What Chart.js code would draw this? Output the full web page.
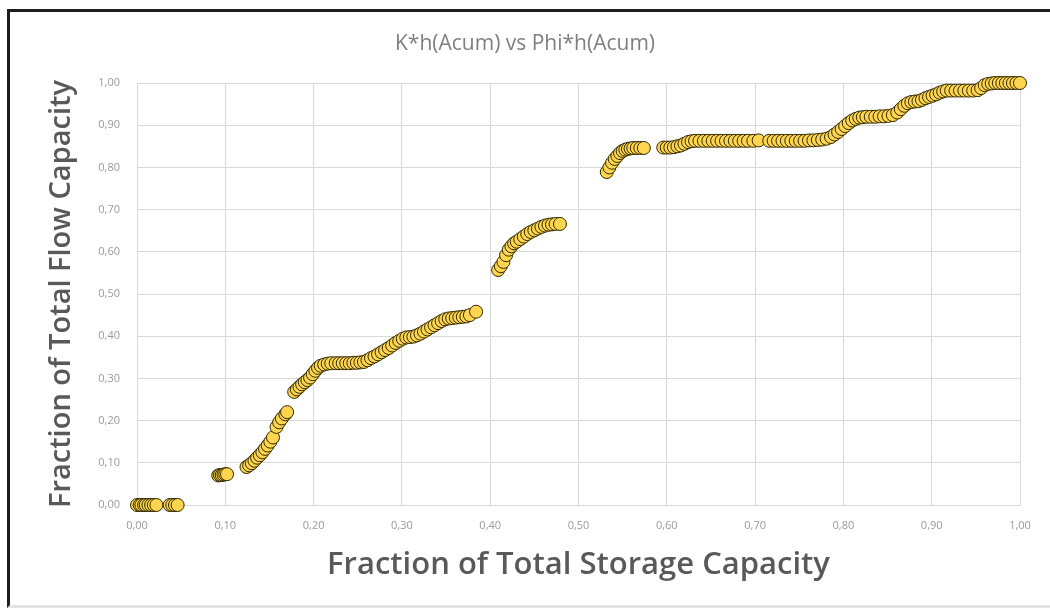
<!DOCTYPE html>
<html>
<head>
<meta charset="utf-8">
<title>K*h(Acum) vs Phi*h(Acum)</title>
<script src="https://cdn.jsdelivr.net/npm/chart.js@4"></script>
<style>
  html, body { margin: 0; padding: 0; background: #fff; overflow: hidden; }
  #frame {
    position: absolute; left: 7px; top: 9px; width: 1100px; height: 593px;
    border-top: 3px solid #1e1e1e; border-left: 3px solid #1e1e1e; border-bottom: 3px solid #e4e4e4;
  }
  #wrap { position: absolute; left: 0; top: 0; width: 1050px; height: 609px; }
</style>
</head>
<body>
<div id="frame"></div>
<div id="wrap"><canvas id="chart" width="1050" height="609"></canvas></div>
<script>
// Fraction of total storage capacity (Phi*h accumulated)
const storageFraction = [
  0.000, 0.003, 0.005, 0.008, 0.010, 0.013, 0.016, 0.019, 0.022,
  0.037, 0.040, 0.043, 0.046,
  0.092, 0.094, 0.096, 0.098, 0.100, 0.102,
  0.124, 0.127, 0.130, 0.133, 0.136, 0.139, 0.142, 0.145, 0.148, 0.151, 0.154, 0.158, 0.161, 0.164, 0.168, 0.170,
  0.178, 0.181, 0.184, 0.187, 0.190, 0.193, 0.196, 0.199, 0.202, 0.205, 0.208, 0.212, 0.216, 0.220, 0.225, 0.229,
  0.233, 0.237, 0.241, 0.245, 0.249, 0.253, 0.257, 0.261, 0.265, 0.269, 0.273, 0.277, 0.281, 0.285, 0.289, 0.293,
  0.297, 0.301, 0.305, 0.309, 0.313, 0.317, 0.321, 0.325, 0.329, 0.333, 0.337, 0.341, 0.345, 0.349, 0.353, 0.357,
  0.361, 0.365, 0.369, 0.373, 0.377, 0.384,
  0.409, 0.412, 0.415, 0.418, 0.421, 0.424, 0.427, 0.430, 0.434, 0.438, 0.442, 0.446, 0.450, 0.454, 0.458, 0.462,
  0.466, 0.470, 0.474, 0.479,
  0.532, 0.535, 0.538, 0.541, 0.544, 0.547, 0.550, 0.553, 0.556, 0.559, 0.562, 0.566, 0.570, 0.574,
  0.596, 0.600, 0.604, 0.608, 0.612, 0.616, 0.620, 0.624, 0.628, 0.632, 0.637, 0.642, 0.647, 0.652, 0.657, 0.662,
  0.667, 0.672, 0.677, 0.682, 0.687, 0.692, 0.698, 0.704,
  0.716, 0.721, 0.726, 0.731, 0.736, 0.741, 0.746, 0.751, 0.756, 0.761, 0.766, 0.771, 0.776, 0.781, 0.786, 0.790,
  0.794, 0.798, 0.802, 0.806, 0.810, 0.814, 0.818, 0.822, 0.826, 0.831, 0.836, 0.841, 0.846, 0.851, 0.856, 0.861,
  0.865, 0.869, 0.873, 0.877, 0.881, 0.885, 0.889, 0.893, 0.897, 0.901, 0.905, 0.909, 0.913, 0.917, 0.922, 0.927,
  0.932, 0.937, 0.942, 0.947, 0.952, 0.956, 0.960, 0.964, 0.968, 0.972, 0.976, 0.980, 0.984, 0.988, 0.992, 0.996, 1.000
];

// Fraction of total flow capacity (K*h accumulated)
const flowFraction = [
  0.000, 0.000, 0.000, 0.000, 0.000, 0.000, 0.000, 0.000, 0.000,
  0.000, 0.000, 0.000, 0.000,
  0.070, 0.071, 0.071, 0.072, 0.073, 0.073,
  0.090, 0.094, 0.099, 0.105, 0.112, 0.118, 0.125, 0.133, 0.141, 0.150, 0.160, 0.185, 0.196, 0.205, 0.215, 0.220,
  0.268, 0.274, 0.280, 0.286, 0.291, 0.296, 0.302, 0.310, 0.318, 0.325, 0.330, 0.333, 0.335, 0.336, 0.336, 0.336,
  0.336, 0.336, 0.336, 0.337, 0.337, 0.338, 0.339, 0.343, 0.348, 0.352, 0.357, 0.362, 0.367, 0.372, 0.378, 0.384,
  0.389, 0.394, 0.397, 0.398, 0.399, 0.402, 0.406, 0.411, 0.416, 0.421, 0.426, 0.431, 0.436, 0.440, 0.442, 0.443,
  0.444, 0.445, 0.446, 0.447, 0.450, 0.458,
  0.557, 0.566, 0.576, 0.592, 0.605, 0.613, 0.620, 0.624, 0.630, 0.636, 0.642, 0.647, 0.651, 0.655, 0.659, 0.662,
  0.664, 0.665, 0.666, 0.666,
  0.789, 0.800, 0.811, 0.820, 0.827, 0.834, 0.839, 0.842, 0.844, 0.845, 0.846, 0.846, 0.846, 0.846,
  0.847, 0.847, 0.847, 0.848, 0.850, 0.852, 0.856, 0.860, 0.862, 0.863, 0.863, 0.863, 0.863, 0.863, 0.863, 0.863,
  0.863, 0.863, 0.863, 0.863, 0.863, 0.863, 0.863, 0.864,
  0.863, 0.863, 0.863, 0.863, 0.863, 0.863, 0.863, 0.863, 0.863, 0.864, 0.864, 0.865, 0.866, 0.868, 0.872, 0.878,
  0.884, 0.891, 0.898, 0.905, 0.911, 0.915, 0.918, 0.919, 0.920, 0.920, 0.920, 0.921, 0.921, 0.922, 0.924, 0.930,
  0.938, 0.946, 0.952, 0.955, 0.956, 0.957, 0.960, 0.964, 0.967, 0.970, 0.973, 0.977, 0.980, 0.982, 0.982, 0.982,
  0.982, 0.982, 0.982, 0.982, 0.983, 0.988, 0.995, 0.998, 0.999, 1.000, 1.000, 1.000, 1.000, 1.000, 1.000, 1.000, 1.000
];

// Axis tick labels (decimal comma, as in the source)
const xTickLabels = ['0,00', '0,10', '0,20', '0,30', '0,40', '0,50', '0,60', '0,70', '0,80', '0,90', '1,00'];
const yTickLabels = ['0,00', '0,10', '0,20', '0,30', '0,40', '0,50', '0,60', '0,70', '0,80', '0,90', '1,00'];

const points = storageFraction.map((x, i) => ({ x: x, y: flowFraction[i] }));

const gridColor = '#d9d9d9';
const tickFont = { family: '"Open Sans", sans-serif', size: 11 };

new Chart(document.getElementById('chart'), {
  type: 'scatter',
  data: {
    datasets: [{
      label: 'K*h vs Phi*h',
      data: points,
      backgroundColor: '#ffd54f',
      borderColor: '#2e2700',
      borderWidth: 1,
      pointRadius: 6.5,
      clip: false
    }]
  },
  options: {
    responsive: false,
    animation: false,
    layout: { padding: 0 },
    plugins: {
      legend: { display: false },
      tooltip: { enabled: false },
      title: {
        display: true,
        text: 'K*h(Acum) vs Phi*h(Acum)',
        color: '#7f7f7f',
        font: { family: '"Open Sans", sans-serif', size: 21, weight: '400' },
        padding: { top: 31, bottom: 26.8 }
      }
    },
    scales: {
      x: {
        type: 'linear',
        min: 0,
        max: 1,
        ticks: {
          stepSize: 0.1,
          padding: 14,
          color: '#9a9a9a',
          font: tickFont,
          maxRotation: 0,
          callback: (v, i) => xTickLabels[i]
        },
        grid: { color: gridColor, drawTicks: false },
        border: { color: gridColor },
        title: {
          display: true,
          text: 'Fraction of Total Storage Capacity',
          color: '#595959',
          font: { family: '"Open Sans", sans-serif', size: 31, weight: '600' },
          padding: { top: 0, bottom: 25 }
        },
        afterFit: (s) => { s.height = 104; }
      },
      y: {
        type: 'linear',
        min: 0,
        max: 1,
        ticks: {
          stepSize: 0.1,
          padding: 17,
          color: '#9a9a9a',
          font: tickFont,
          callback: (v, i) => yTickLabels[i]
        },
        grid: { color: gridColor, drawTicks: false },
        border: { color: gridColor },
        title: {
          display: true,
          text: 'Fraction of Total Flow Capacity',
          color: '#595959',
          font: { family: '"Open Sans", sans-serif', size: 29, weight: '600' },
          padding: { top: 44, bottom: 0 }
        },
        afterFit: (s) => { s.width = 137; }
      },
      // empty right margin of the plot, as in the source chart
      yRight: {
        type: 'linear',
        position: 'right',
        min: 0,
        max: 1,
        ticks: { display: false },
        grid: { display: false },
        border: { display: false },
        afterFit: (s) => { s.width = 30; }
      }
    }
  }
});
</script>
</body>
</html>
